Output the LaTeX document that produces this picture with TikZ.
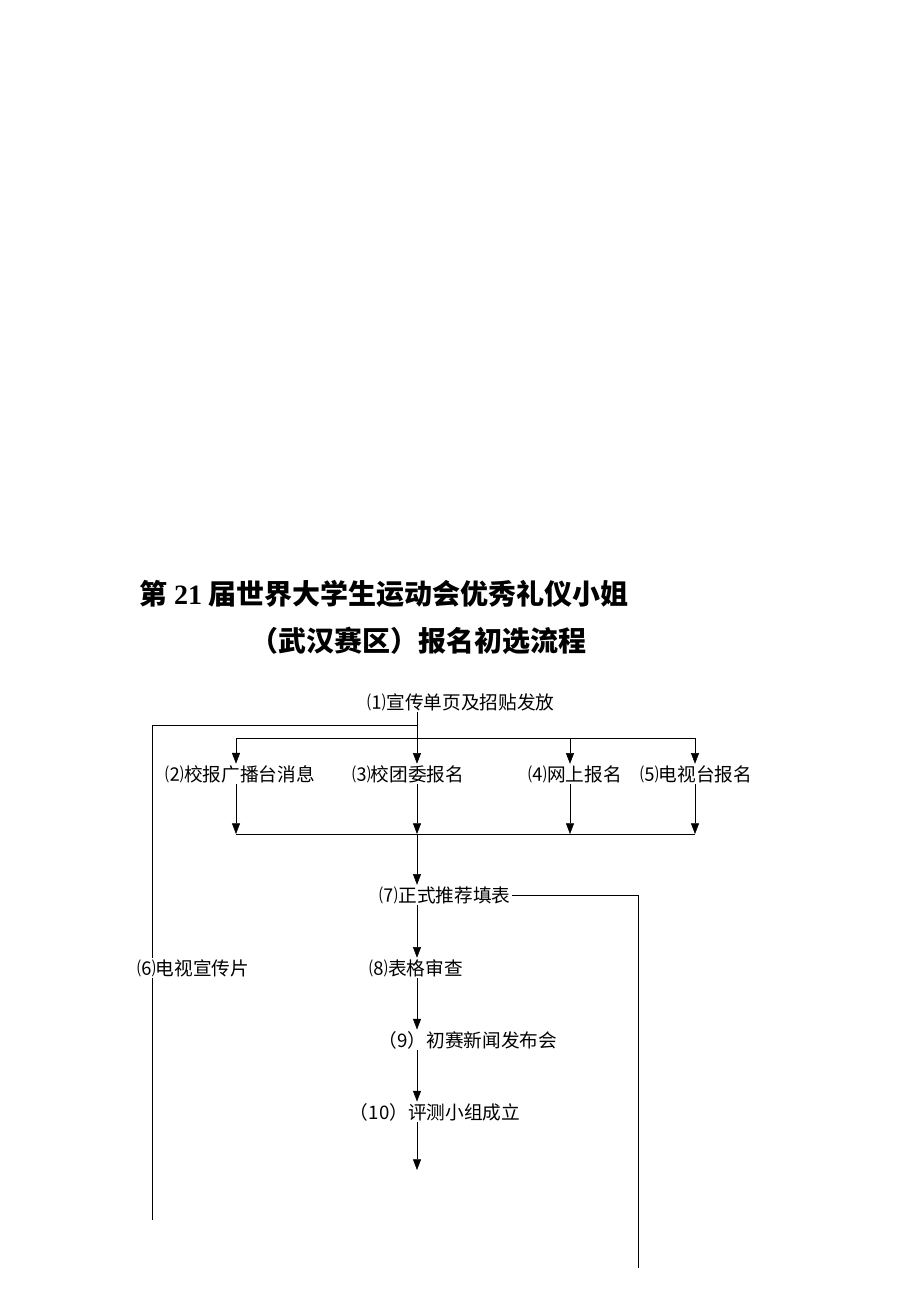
\documentclass[tikz,border=0pt]{standalone}
\usepackage{fontspec}
\setmainfont{Liberation Serif}
\newfontfamily\cjk{Noto Sans CJK SC}
\usetikzlibrary{arrows.meta}
\tikzset{steplabel/.style={font=\cjk\fontsize{14}{16}\selectfont, inner sep=1pt},
  titlelabel/.style={font=\cjk\bfseries\fontsize{21}{25}\selectfont, inner sep=0pt},
  flow/.style={-{Triangle[length=8pt,width=6pt]}},
  line width=1pt}

\begin{document}
\begin{tikzpicture}[x=0.75pt,y=-0.75pt]
    \useasboundingbox (0,0) rectangle (920,1302);
    % title
    \node[titlelabel] (title1) at (384,594) {第 {\rmfamily 21} 届世界大学生运动会优秀礼仪小姐};
    \node[titlelabel] (title2) at (418,641) {（武汉赛区）报名初选流程};

    % steps
    \node[steplabel] (n1) at (461,702) {⑴宣传单页及招贴发放};
    \node[steplabel] (n2) at (240,774) {⑵校报广播台消息};
    \node[steplabel] (n3) at (408,774) {⑶校团委报名};
    \node[steplabel] (n4) at (575,774) {⑷网上报名};
    \node[steplabel] (n5) at (696,774) {⑸电视台报名};
    \node[steplabel] (n6) at (193,968) {⑹电视宣传片};
    \node[steplabel] (n7) at (445,895) {⑺正式推荐填表};
    \node[steplabel] (n8) at (416,968) {⑻表格审查};
    \node[steplabel] (n9) at (468,1040) {（9）初赛新闻发布会};
    \node[steplabel] (n10) at (435,1112) {（10）评测小组成立};

    % bus points
    \coordinate (split) at (417,725);
    \coordinate (lft) at (152,725);
    \coordinate (lftend) at (152,1220);
    \coordinate (b2) at (236,738);
    \coordinate (b3) at (417,738);
    \coordinate (b4) at (570,738);
    \coordinate (b5) at (695,738);
    \coordinate (c2) at (236,834);
    \coordinate (c3) at (417,834);
    \coordinate (c4) at (570,834);
    \coordinate (c5) at (695,834);
    \coordinate (rgt) at (638,1268);
    \coordinate (tail) at (417,1170);

    \draw (split) -- (lft) -- (lft |- n6.north);
    \draw (lft |- n6.south) -- (lftend);
    \draw (b2) -- (b5);
    \draw[flow] (n1.south -| b3) -- (n3.north -| b3);
    \draw[flow] (b2) -- (n2.north -| b2);
    \draw[flow] (b4) -- (n4.north -| b4);
    \draw[flow] (b5) -- (n5.north -| b5);

    \draw[flow] (n2.south -| c2) -- (c2);
    \draw[flow] (n3.south -| c3) -- (c3);
    \draw[flow] (n4.south -| c4) -- (c4);
    \draw[flow] (n5.south -| c5) -- (c5);
    \draw (c2) -- (c5);
    \draw[flow] (c3) -- (n7.north -| c3);

    \draw (n7.east) -- (n7.east -| rgt) -- (rgt);
    \draw[flow] (n7.south -| c3) -- (n8.north -| c3);
    \draw[flow] (n8.south -| c3) -- (n9.north -| c3);
    \draw[flow] (n9.south -| c3) -- (n10.north -| c3);
    \draw[flow] (n10.south -| c3) -- (tail);
\end{tikzpicture}
\end{document}
